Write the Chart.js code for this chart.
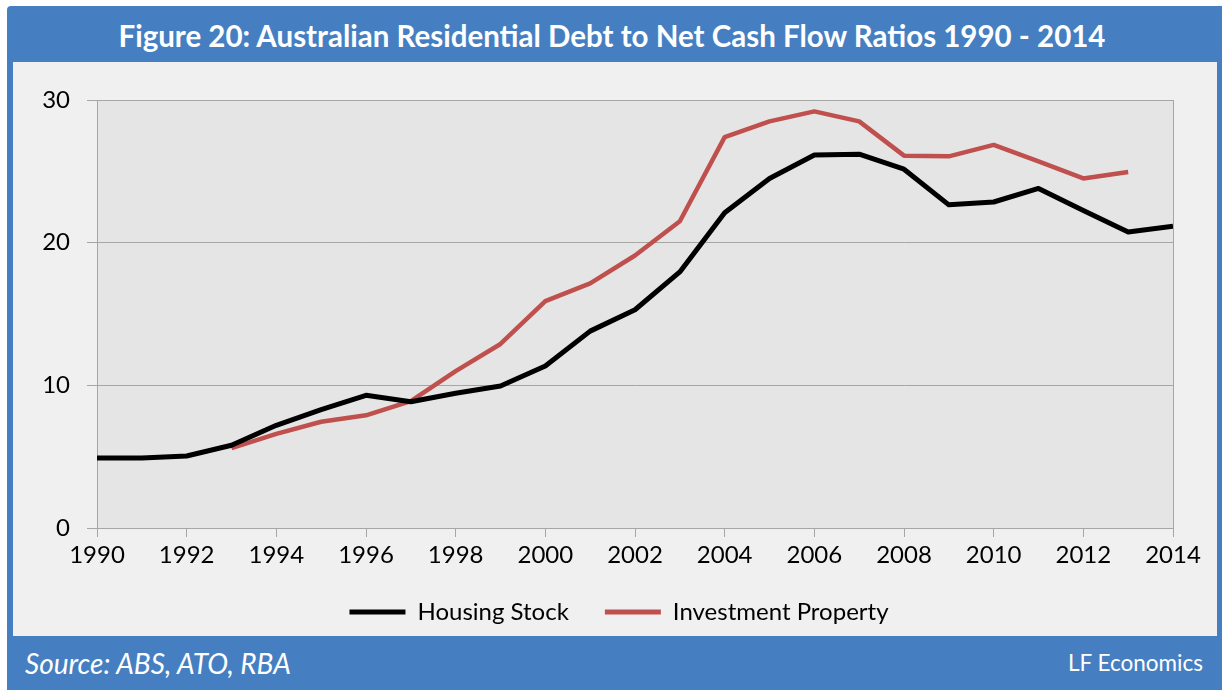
<!DOCTYPE html>
<html>
<head>
<meta charset="utf-8">
<script src="https://cdn.jsdelivr.net/npm/chart.js@4.4.0/dist/chart.umd.min.js"></script>
<style>
    html, body { margin: 0; padding: 0; background: #ffffff; }
    body { width: 1222px; height: 690px; position: relative; overflow: hidden; font-family: Lato, "Open Sans", sans-serif; }
    .frame { position: absolute; left: 7px; top: 6px; width: 1215px; height: 684px; background: #457fc2; border-radius: 4px 0 0 0; }
    .title { position: absolute; left: 7px; top: 6px; width: 1210px; height: 56px; line-height: 60px; text-align: center; color: #ffffff; font-weight: bold; font-size: 29.5px; }
    .panel { position: absolute; left: 13px; top: 62px; width: 1204px; height: 574px; background: #f0f0f0; }
    .source { position: absolute; left: 25px; top: 646px; color: #ffffff; font-style: italic; font-size: 28px; }
    .brand { position: absolute; right: 19px; top: 649px; color: #ffffff; font-size: 22.5px; }
    #chart { position: absolute; left: 13px; top: 62px; }
</style>
</head>
<body>
<div class="frame"></div>
<div class="title">Figure 20: Australian Residential Debt to Net Cash Flow Ratios 1990 - 2014</div>
<div class="panel"></div>
<div class="source">Source: ABS, ATO, RBA</div>
<div class="brand">LF Economics</div>
<canvas id="chart" width="1204" height="574"></canvas>
<script>
// dados
const years = [1990, 1991, 1992, 1993, 1994, 1995, 1996, 1997, 1998, 1999, 2000, 2001, 2002,
    2003, 2004, 2005, 2006, 2007, 2008, 2009, 2010, 2011, 2012, 2013, 2014];
const housingStock = [4.9, 4.9, 5.05, 5.8, 7.2, 8.3, 9.3, 8.85, 9.45, 9.95, 11.35, 13.8, 15.3,
    17.95, 22.1, 24.5, 26.15, 26.2, 25.15, 22.65, 22.85, 23.8, 22.25, 20.75, 21.15];
const investmentProperty = [null, null, null, 5.6, 6.6, 7.45, 7.9, 8.9, 11.0, 12.9, 15.9, 17.15, 19.1,
    21.5, 27.4, 28.5, 29.2, 28.5, 26.1, 26.05, 26.85, 25.7, 24.5, 24.95, null];
const seriesLabels = ['Housing Stock', 'Investment Property'];
const yTicks = [0, 10, 20, 30];

document.addEventListener("DOMContentLoaded", () => {
    const toPoints = values => years.map((y, i) => ({ x: y, y: values[i] }));
    const tickFont = { family: 'Lato', size: 24 };

    // fundo e moldura da área do gráfico
    const plotArea = {
        id: 'plotArea',
        afterLayout(chart) {
            // legenda um pouco à direita, como no original
            chart.legend.left += 19;
            chart.legend.right += 19;
        },
        beforeDraw(chart) {
            const { ctx, chartArea: a } = chart;
            ctx.save();
            ctx.fillStyle = '#e5e5e5';
            ctx.fillRect(a.left, a.top, a.right - a.left, a.bottom - a.top);
            ctx.restore();
        },
        beforeDatasetsDraw(chart) {
            const { ctx, chartArea: a } = chart;
            ctx.save();
            ctx.strokeStyle = '#a6a6a6';
            ctx.lineWidth = 1;
            ctx.strokeRect(Math.round(a.left) + 0.5, Math.round(a.top) + 0.5, Math.round(a.right - a.left), Math.round(a.bottom - a.top));
            ctx.restore();
        }
    };

    const ctx = document.getElementById('chart').getContext('2d');
    new Chart(ctx, {
        type: 'line',
        data: {
            datasets: [{
                label: seriesLabels[0],
                data: toPoints(housingStock),
                borderColor: '#000000',
                backgroundColor: '#000000',
                borderWidth: 5,
            }, {
                label: seriesLabels[1],
                data: toPoints(investmentProperty),
                borderColor: '#c0504d',
                backgroundColor: '#c0504d',
                borderWidth: 4.5,
            }]
        },
        options: {
            responsive: false,
            animation: false,
            spanGaps: false,
            elements: { point: { radius: 0 }, line: { tension: 0, borderJoinStyle: 'round', borderCapStyle: 'butt' } },
            layout: { padding: { top: 38, right: 44, left: 14, bottom: 2 } },
            scales: {
                x: {
                    type: 'linear',
                    min: 1990,
                    max: 2014,
                    afterFit: s => { s.height = 36; },
                    ticks: { stepSize: 2, color: '#000', font: tickFont, padding: 4, maxRotation: 0, callback: v => String(v) },
                    grid: { drawOnChartArea: false, drawTicks: true, tickLength: 9, color: '#a6a6a6' },
                    border: { color: '#a6a6a6' }
                },
                y: {
                    min: 0,
                    max: 30,
                    afterFit: s => { s.width = 70; },
                    afterBuildTicks: s => { s.ticks = yTicks.map(v => ({ value: v })); },
                    ticks: { color: '#000', font: tickFont, padding: 17 },
                    grid: { color: '#a6a6a6', tickLength: 10 },
                    border: { color: '#a6a6a6' }
                }
            },
            plugins: {
                tooltip: { enabled: false },
                legend: {
                    position: 'bottom',
                    labels: {
                        color: '#000',
                        font: { family: 'Lato', size: 24 },
                        boxWidth: 56,
                        boxHeight: 5,
                        padding: 36,
                        generateLabels: chart => chart.data.datasets.map((ds, i) => ({
                            text: ds.label,
                            fillStyle: ds.borderColor,
                            strokeStyle: ds.borderColor,
                            lineWidth: 0,
                            hidden: false,
                            datasetIndex: i
                        }))
                    }
                }
            }
        },
        plugins: [plotArea]
    });
});
</script>
</body>
</html>
